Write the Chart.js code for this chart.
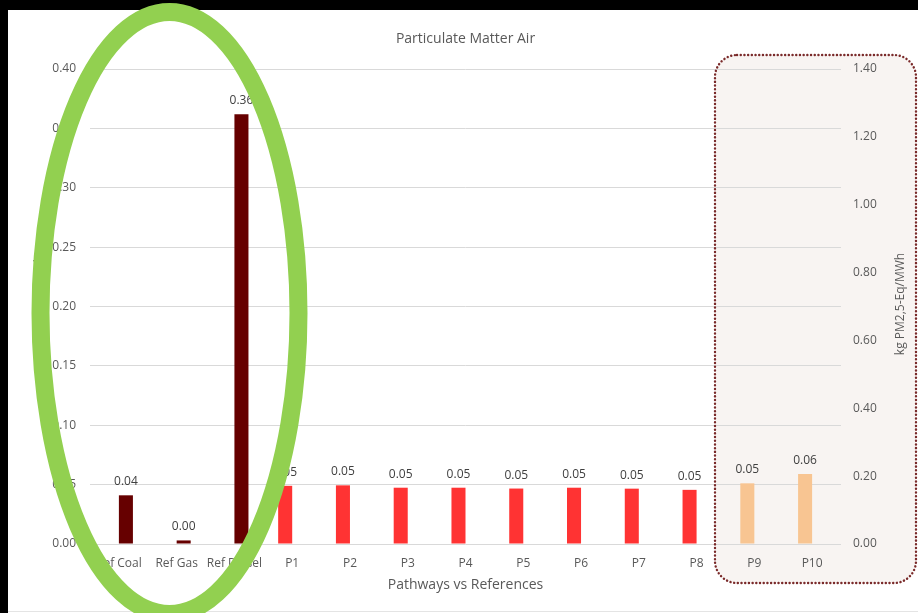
<!DOCTYPE html>
<html>
<head>
<meta charset="utf-8">
<title>Particulate Matter Air</title>
<script src="https://cdn.jsdelivr.net/npm/chart.js"></script>
<style>
  html, body { margin: 0; padding: 0; background: #fff; }
  #wrap { width: 918px; height: 613px; }
</style>
</head>
<body>
<div id="wrap"><canvas id="pmChart" width="918" height="613"></canvas></div>
<script>
// data (kg PM2,5-Eq/MWh)
const categories = ['Ref Coal', 'Ref Gas', 'Ref Diesel', 'P1', 'P2', 'P3', 'P4', 'P5', 'P6', 'P7', 'P8', 'P9', 'P10'];
const refValues = [0.041, 0.003, 0.362, null, null, null, null, null, null, null, null, null, null];
const pathwayValues = [null, null, null, 0.049, 0.0494, 0.0474, 0.0474, 0.0467, 0.0474, 0.0466, 0.0456, 0.0511, 0.059];
const highlighted = ['P9', 'P10'];
const leftTicks = [0, 0.05, 0.10, 0.15, 0.20, 0.25, 0.30, 0.35, 0.40];
const rightTicks = [0, 0.20, 0.40, 0.60, 0.80, 1.00, 1.20, 1.40];
const unitLabel = 'kg PM2,5-Eq/MWh';

const grey = '#595959';
Chart.defaults.font.family = "'Open Sans', sans-serif";
Chart.defaults.color = grey;

// value labels above each bar
const barLabels = {
  id: 'barLabels',
  afterDatasetsDraw(chart) {
    const ctx = chart.ctx;
    ctx.save();
    ctx.font = "12px 'Open Sans', sans-serif";
    ctx.fillStyle = '#404040';
    ctx.textAlign = 'center';
    ctx.textBaseline = 'alphabetic';
    chart.data.datasets.forEach((ds, i) => {
      chart.getDatasetMeta(i).data.forEach((bar, j) => {
        const v = ds.data[j];
        if (v === null || v === undefined) return;
        ctx.fillText(v.toFixed(2), bar.x, bar.y - 10);
      });
    });
    ctx.restore();
  }
};

function roundRect(ctx, x, y, w, h, r) {
  ctx.beginPath();
  ctx.moveTo(x + r, y);
  ctx.arcTo(x + w, y, x + w, y + h, r);
  ctx.arcTo(x + w, y + h, x, y + h, r);
  ctx.arcTo(x, y + h, x, y, r);
  ctx.arcTo(x, y, x + w, y, r);
  ctx.closePath();
}

function sideTitle(ctx, x, y) {
  ctx.save();
  ctx.translate(x, y);
  ctx.rotate(-Math.PI / 2);
  ctx.font = "12px 'Open Sans', sans-serif";
  ctx.fillStyle = grey;
  ctx.textAlign = 'center';
  ctx.textBaseline = 'middle';
  ctx.fillText(unitLabel, 0, 0);
  ctx.restore();
}

// frame, highlight box, axis titles and the hand-drawn ellipse
const decor = {
  id: 'decor',
  beforeDraw(chart) {
    const ctx = chart.ctx;
    ctx.save();
    ctx.fillStyle = '#fff';
    ctx.fillRect(0, 0, chart.width, chart.height);
    roundRect(ctx, 715, 55, 201, 528, 22);
    ctx.fillStyle = '#f8f4f2';
    ctx.fill();
    ctx.restore();
  },
  afterDraw(chart) {
    const ctx = chart.ctx;
    ctx.save();
    // black edges of the screenshot
    ctx.fillStyle = '#000';
    ctx.fillRect(0, 0, chart.width, 10);
    ctx.fillRect(0, 0, 8, chart.height);
    ctx.fillStyle = '#e4e4e4';
    ctx.fillRect(8, 611, chart.width - 8, 1);

    // dotted rounded box round P9/P10
    roundRect(ctx, 715, 55, 201, 528, 22);
    ctx.strokeStyle = '#7a2a2a';
    ctx.lineWidth = 2.4;
    ctx.lineCap = 'round';
    ctx.setLineDash([0.1, 3.6]);
    ctx.stroke();
    ctx.setLineDash([]);

    sideTitle(ctx, 901, 304);
    sideTitle(ctx, 39.5, 306);

    // green ellipse round the references
    ctx.beginPath();
    ctx.ellipse(169.5, 313, 129, 301, 0, 0, Math.PI * 2);
    ctx.strokeStyle = '#92d050';
    ctx.lineWidth = 18;
    ctx.stroke();
    ctx.restore();
  }
};

const ctx = document.getElementById('pmChart').getContext('2d');
new Chart(ctx, {
  type: 'bar',
  data: {
    labels: categories,
    datasets: [
      {
        label: 'Pathways',
        data: pathwayValues,
        backgroundColor: c => highlighted.includes(categories[c.dataIndex]) ? '#f8c592' : '#ff3333',
        yAxisID: 'y'
      },
      {
        label: 'References',
        data: refValues,
        backgroundColor: '#660000',
        yAxisID: 'y'
      }
    ]
  },
  options: {
    responsive: false,
    animation: false,
    devicePixelRatio: 1,
    layout: { padding: { top: 10, left: 0, right: 0, bottom: 0 } },
    datasets: {
      bar: { categoryPercentage: 0.486, barPercentage: 1 }
    },
    plugins: {
      legend: { display: false },
      tooltip: { enabled: false },
      title: {
        display: true,
        text: 'Particulate Matter Air',
        fullSize: false,
        color: grey,
        font: { size: 14, weight: 'normal' },
        padding: { top: 21, bottom: 21.2 }
      }
    },
    scales: {
      x: {
        grid: { display: false },
        border: { display: false },
        ticks: { color: grey, font: { size: 12 }, padding: 4, autoSkip: false, maxRotation: 0 },
        title: {
          display: true,
          text: 'Pathways vs References',
          color: grey,
          font: { size: 14 },
          padding: { top: 0, bottom: 20 }
        },
        afterFit: s => { s.height = 69; }
      },
      y: {
        position: 'left',
        min: 0,
        max: 0.4,
        afterBuildTicks: s => { s.ticks = leftTicks.map(v => ({ value: v })); },
        ticks: { color: grey, font: { size: 12 }, padding: 14, callback: v => v.toFixed(2) },
        grid: { color: '#d9d9d9', drawTicks: false },
        border: { display: false },
        afterFit: s => { s.width = 90; }
      },
      y2: {
        position: 'right',
        min: 0,
        max: 1.4,
        afterBuildTicks: s => { s.ticks = rightTicks.map(v => ({ value: v })); },
        ticks: { color: grey, font: { size: 12 }, padding: 12, callback: v => v.toFixed(2) },
        grid: { display: false, drawTicks: false },
        border: { display: false },
        afterFit: s => { s.width = 77; }
      }
    }
  },
  plugins: [decor, barLabels]
});
</script>
</body>
</html>
